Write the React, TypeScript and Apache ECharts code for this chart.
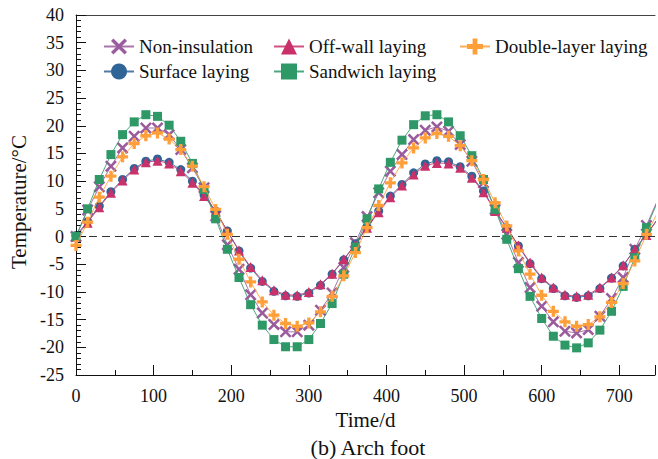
import React, { useEffect, useRef } from "react";
import * as echarts from "echarts";

const days = [0, 15, 30, 45, 60, 75, 90, 105, 120, 135, 150, 165, 180, 195, 210, 225, 240, 255, 270, 285, 300, 315, 330, 345, 360, 375, 390, 405, 420, 435, 450, 465, 480, 495, 510, 525, 540, 555, 570, 585, 600, 615, 630, 645, 660, 675, 690, 705, 720, 735, 750];

const nonInsulation = [0, 4.8, 9.0, 12.7, 16.0, 18.1, 19.6, 19.6, 18.4, 15.7, 12.4, 8.8, 3.7, -1.5, -5.9, -10.5, -13.8, -15.9, -17.2, -17.2, -16.0, -13.3, -10.2, -5.6, -1.1, 3.6, 7.9, 11.8, 14.8, 17.5, 19.2, 19.8, 19.0, 16.6, 13.6, 9.7, 4.9, 0.4, -4.7, -9.2, -12.6, -15.4, -17.1, -17.4, -16.8, -14.4, -11.2, -7.4, -2.3, 2.0, 6.8];
const surfaceLaying = [0.2, 2.7, 5.5, 8.1, 10.3, 12.3, 13.6, 14.0, 13.4, 12.1, 10.0, 7.5, 4.6, 1.0, -2.6, -5.7, -8.1, -9.9, -10.7, -10.8, -10.2, -8.8, -6.8, -4.2, -1.3, 1.7, 4.6, 7.3, 9.4, 11.5, 13.1, 13.7, 13.5, 12.6, 10.9, 8.2, 4.7, 1.6, -1.7, -4.9, -7.6, -9.4, -10.7, -11.0, -10.7, -9.4, -7.5, -5.3, -2.3, 0.4, 3.3];
const offWallLaying = [0, 2.5, 5.3, 7.9, 10.1, 12.1, 13.4, 13.7, 13.2, 11.8, 9.7, 7.3, 4.5, 1.0, -2.5, -5.5, -7.9, -9.7, -10.5, -10.6, -10.0, -8.6, -6.7, -4.1, -1.4, 1.6, 4.4, 7.1, 9.2, 11.2, 12.8, 13.3, 13.2, 12.4, 10.6, 8.0, 4.6, 1.6, -1.6, -4.7, -7.4, -9.2, -10.5, -10.8, -10.5, -9.2, -7.4, -5.2, -2.3, 0.3, 3.2];
const sandwichLaying = [0, 5.0, 10.3, 14.8, 18.4, 20.7, 22.0, 21.7, 20.1, 17.2, 13.2, 8.5, 3.2, -2.3, -7.4, -12.3, -16.0, -18.6, -19.9, -19.9, -18.6, -15.7, -12.1, -6.8, -1.9, 3.2, 8.6, 13.4, 17.4, 20.2, 21.8, 22.0, 20.7, 18.2, 14.6, 10.3, 4.9, -0.5, -5.8, -10.8, -14.8, -18.0, -19.6, -20.1, -19.2, -16.9, -13.5, -9.0, -3.8, 1.6, 6.5];
const doubleLayerLaying = [-1.6, 2.6, 7.1, 10.9, 14.4, 16.8, 18.2, 18.7, 17.6, 15.7, 12.7, 9.0, 4.9, 0.4, -4.1, -8.2, -11.8, -14.2, -15.7, -16.2, -15.6, -13.6, -10.8, -7.1, -2.9, 1.6, 5.6, 9.7, 13.3, 16.0, 17.8, 18.6, 18.1, 16.4, 13.7, 10.3, 6.1, 1.9, -2.6, -6.8, -10.6, -13.5, -15.4, -16.2, -15.9, -14.5, -11.9, -8.5, -4.4, 0.4, 4.5];

// axis tick values (major every 100 d / 5 °C, minor every 50 d / 1 °C)
const xMajorTicks = [0, 100, 200, 300, 400, 500, 600, 700];
const xMinorTicks = [50, 150, 250, 350, 450, 550, 650];
const yMajorTicks = [-25, -20, -15, -10, -5, 0, 5, 10, 15, 20, 25, 30, 35, 40];
const yMinorTicks = [-24, -23, -22, -21, -19, -18, -17, -16, -14, -13, -12, -11, -9, -8, -7, -6, -4, -3, -2, -1, 1, 2, 3, 4, 6, 7, 8, 9, 11, 12, 13, 14, 16, 17, 18, 19, 21, 22, 23, 24, 26, 27, 28, 29, 31, 32, 33, 34, 36, 37, 38, 39];

const X_MIN = 0;
const X_MAX = 746;
const Y_MIN = -25;
const Y_MAX = 40;

const W = 658;
const H = 459;
const GRID = { left: 76, right: 0, top: 15, bottom: 84 };

const FONT = "Liberation Serif";
const CROSS = "path://M0,3 L3,0 L10,7 L17,0 L20,3 L13,10 L20,17 L17,20 L10,13 L3,20 L0,17 L7,10 Z";
const PLUS = "path://M7,0 H13 V7 H20 V13 H13 V20 H7 V13 H0 V7 H7 Z";
const INK = "#111";

function mk(name: string, vals: number[], color: string, symbol: string, size: number, z: number) {
  return {
    name,
    type: "line",
    data: days.map((d, i) => [d, vals[i]]),
    symbol,
    symbolSize: size,
    symbolKeepAspect: true,
    showAllSymbol: true,
    z,
    lineStyle: { color, width: 1, opacity: 0.85 },
    itemStyle: { color, borderWidth: 0 },
    emphasis: { disabled: true },
  };
}

export default function App() {
  const ref = useRef<HTMLDivElement>(null);
  useEffect(() => {
    if (!ref.current) return;
    const chart = echarts.init(ref.current, null, { renderer: "svg" });

    // tick lengths in pixels converted to data units of each axis
    const plotW = W - GRID.left - GRID.right;
    const plotH = H - GRID.top - GRID.bottom;
    const dayPerPx = (X_MAX - X_MIN) / plotW;
    const degPerPx = (Y_MAX - Y_MIN) / plotH;
    const tickSolid = { color: INK, width: 1, type: "solid" as const, opacity: 1 };
    const tickLines: any[] = [
      ...xMajorTicks.map((v) => [{ coord: [v, Y_MIN], lineStyle: tickSolid }, { coord: [v, Y_MIN + 10 * degPerPx] }]),
      ...xMinorTicks.map((v) => [{ coord: [v, Y_MIN], lineStyle: tickSolid }, { coord: [v, Y_MIN + 5 * degPerPx] }]),
      ...yMajorTicks.map((v) => [{ coord: [X_MIN, v], lineStyle: tickSolid }, { coord: [X_MIN + 10 * dayPerPx, v] }]),
      ...yMinorTicks.map((v) => [{ coord: [X_MIN, v], lineStyle: tickSolid }, { coord: [X_MIN + 5 * dayPerPx, v] }]),
    ];

    const legendCommon = {
      orient: "vertical",
      top: 32,
      itemWidth: 30,
      itemHeight: 20,
      itemGap: 6,
      textStyle: { fontFamily: FONT, fontSize: 19, color: INK },
      selectedMode: false,
    };
    chart.setOption({
      animation: false,
      backgroundColor: "#fff",
      textStyle: { fontFamily: FONT },
      grid: GRID,
      legend: [
        { ...legendCommon, left: 98, data: ["Non-insulation", "Surface laying"] },
        { ...legendCommon, left: 268, data: ["Off-wall laying", "Sandwich laying"] },
        { ...legendCommon, left: 454, data: ["Double-layer laying"] },
      ],
      xAxis: [
        {
          type: "value",
          position: "bottom",
          min: X_MIN,
          max: X_MAX,
          interval: 100,
          name: "Time/d",
          nameLocation: "middle",
          nameGap: 32,
          nameTextStyle: { fontFamily: FONT, fontSize: 21, color: INK },
          axisLine: { show: true, onZero: false, lineStyle: { color: INK, width: 1 } },
          axisTick: { show: true, inside: true, length: 10, lineStyle: { color: INK, width: 1 } },
          minorTick: { show: true, splitNumber: 2, length: 5, lineStyle: { color: INK, width: 1 } },
          splitLine: { show: false },
          axisLabel: {
            margin: 12,
            fontFamily: FONT,
            fontSize: 18,
            color: INK,
            formatter: (v: number) => (v % 100 === 0 ? String(v) : ""),
          },
        },
        {
          type: "value",
          position: "top",
          min: X_MIN,
          max: X_MAX,
          interval: 100,
          axisLine: { show: true, onZero: false, lineStyle: { color: "#444", width: 1 } },
          axisTick: { show: false },
          axisLabel: { show: false },
          splitLine: { show: false },
        },
      ],
      yAxis: {
        type: "value",
        min: Y_MIN,
        max: Y_MAX,
        interval: 5,
        name: "Temperature/°C",
        nameLocation: "middle",
        nameGap: 43,
        nameTextStyle: { fontFamily: FONT, fontSize: 21, color: INK, padding: [0, 14, 0, 0] },
        axisLine: { show: true, onZero: false, lineStyle: { color: INK, width: 1 } },
        axisTick: { show: true, inside: true, length: 10, lineStyle: { color: INK, width: 1 } },
        minorTick: { show: true, splitNumber: 5, length: 5, lineStyle: { color: INK, width: 1 } },
        splitLine: { show: false },
        axisLabel: { margin: 12, fontFamily: FONT, fontSize: 18, color: INK },
      },
      graphic: [
        {
          type: "text",
          x: 368,
          y: 447,
          style: {
            text: "(b) Arch foot",
            fontFamily: FONT,
            fontSize: 22,
            fill: INK,
            textAlign: "center",
            textVerticalAlign: "middle",
          },
        },
      ],
      series: [
        {
          ...mk("Non-insulation", nonInsulation, "#9A5C9C", CROSS, 12, 2),
          markLine: {
            silent: true,
            symbol: "none",
            label: { show: false },
            lineStyle: { color: "#333", width: 1, type: [8, 5] },
            data: [{ yAxis: 0 }],
          },
        },
        {
          ...mk("Surface laying", surfaceLaying, "#2F6497", "circle", 9, 3),
          markLine: {
            silent: true,
            symbol: "none",
            label: { show: false },
            emphasis: { disabled: true },
            lineStyle: tickSolid,
            data: tickLines,
          },
        },
        mk("Off-wall laying", offWallLaying, "#C8316A", "triangle", 10, 4),
        mk("Sandwich laying", sandwichLaying, "#2E9966", "rect", 9, 5),
        mk("Double-layer laying", doubleLayerLaying, "#FF9F3A", PLUS, 11, 6),
      ],
    });
    return () => chart.dispose();
  }, []);
  return (
    <div
      ref={ref}
      style={{ position: "fixed", left: 0, top: 0, width: W, height: H, background: "#fff" }}
    />
  );
}
